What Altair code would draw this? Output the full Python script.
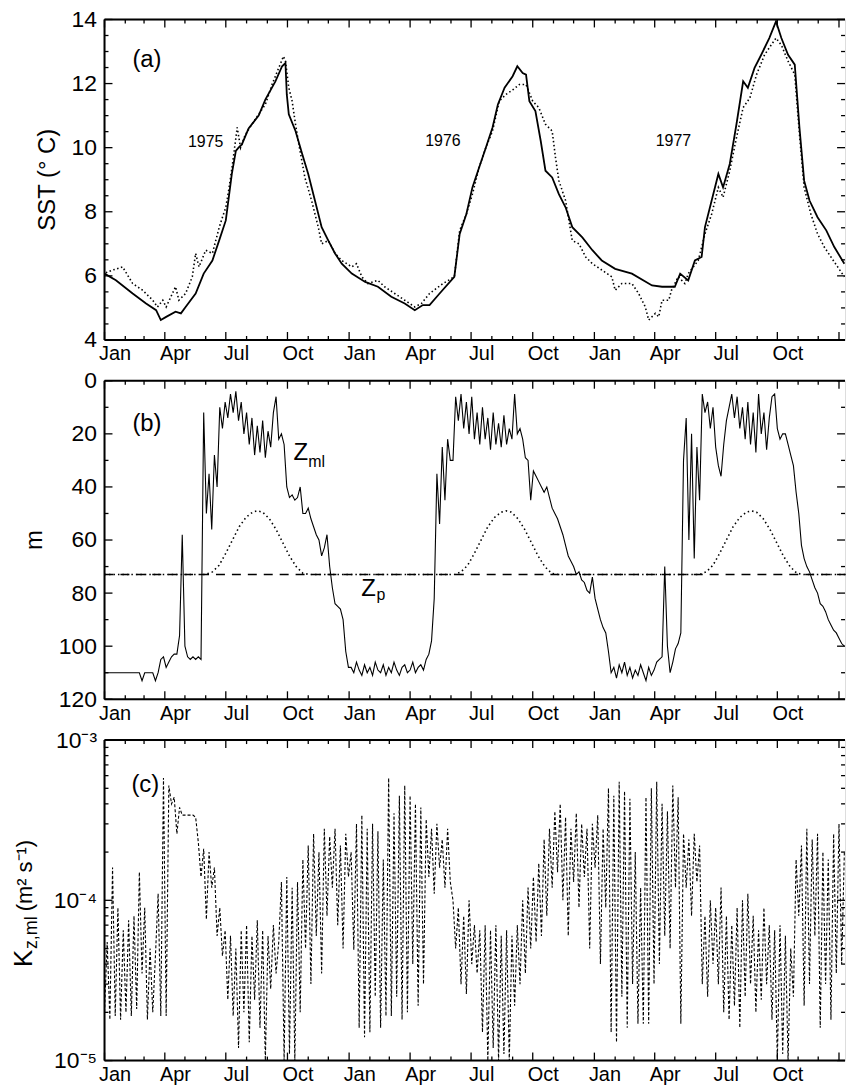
import altair as alt
import pandas as pd

FONT = "Liberation Sans"
W = 744
HA, HB, HC = 322, 320, 322

# ---------------- data (days since 1975-01-01) ----------------
# (a) SST, model (solid)
sst_model_day = [0, 17, 42, 62, 77, 84, 92, 106, 114, 121,
                 136, 148, 161, 171, 181, 190, 196, 200, 205, 215,
                 230, 240, 255, 265, 270, 272, 275, 285, 295, 304,
                 314, 324, 334, 344, 354, 369, 389, 408, 428, 448,
                 463, 475, 485, 500, 522, 530, 540, 549, 559, 569,
                 579, 587, 597, 609, 616, 624, 629, 634, 643, 651,
                 658, 668, 678, 688, 698, 713, 728, 742, 762, 787,
                 817, 832, 851, 859, 871, 881, 891, 896, 906, 916,
                 923, 933, 943, 953, 960, 970, 980, 992, 1002, 1010,
                 1020, 1030, 1037, 1044, 1052, 1064, 1077, 1089, 1104]
sst_model = [6.07, 5.86, 5.45, 5.14, 4.93, 4.62, 4.72, 4.88, 4.83, 5.03,
             5.45, 6.07, 6.48, 7.1, 7.73, 9.18, 9.9, 10.0, 10.1, 10.6,
             11.0, 11.5, 12.07, 12.54, 12.64, 11.66, 11.04, 10.52, 9.8, 9.18,
             8.35, 7.52, 7.1, 6.7, 6.38, 6.07, 5.81, 5.66, 5.35, 5.14,
             4.93, 5.09, 5.09, 5.45, 5.97, 7.31, 7.93, 8.76, 9.38, 10.0,
             10.63, 11.35, 11.87, 12.23, 12.54, 12.33, 12.28, 11.45, 11.14, 10.2,
             9.28, 9.07, 8.55, 8.14, 7.52, 7.2, 6.8, 6.48, 6.22, 6.07,
             5.7, 5.66, 5.66, 6.07, 5.86, 6.48, 6.59, 7.52, 8.35, 9.18,
             8.76, 9.49, 10.73, 12.07, 11.87, 12.49, 12.9, 13.42, 13.94, 13.42,
             12.9, 12.59, 10.63, 8.97, 8.35, 7.83, 7.42, 6.9, 6.38]
# (a) SST, observed (dotted)
sst_obs_day = [2, 12, 27, 42, 57, 72, 79, 87, 92, 106,
               111, 121, 131, 136, 141, 151, 161, 166, 171, 176,
               181, 186, 191, 196, 198, 203, 210, 220, 230, 240,
               250, 260, 267, 270, 275, 280, 285, 290, 299, 309,
               319, 324, 334, 344, 354, 369, 376, 384, 393, 408,
               418, 433, 448, 463, 473, 485, 505, 522, 530, 540,
               549, 559, 569, 579, 589, 599, 609, 619, 629, 639,
               648, 658, 668, 673, 678, 688, 698, 708, 718, 728,
               743, 757, 762, 772, 787, 797, 807, 812, 822, 827,
               832, 842, 846, 856, 866, 871, 886, 896, 906, 916,
               923, 933, 943, 953, 963, 973, 985, 995, 1002, 1010,
               1020, 1030, 1037, 1044, 1054, 1064, 1074, 1084, 1094, 1104]
sst_obs = [6.1, 6.18, 6.28, 5.76, 5.55, 5.24, 5.03, 5.24, 5.03, 5.66,
           5.24, 5.45, 5.97, 6.7, 6.28, 6.8, 6.7, 7.1, 7.5, 7.83,
           8.14, 8.76, 9.49, 10.3, 10.63, 10.0, 10.4, 10.73, 11.04, 11.35,
           11.97, 12.49, 12.85, 12.7, 11.87, 11.45, 10.73, 10.1, 9.07, 8.35,
           7.52, 7.0, 7.1, 6.7, 6.48, 6.28, 6.38, 5.97, 5.76, 5.86,
           5.66, 5.45, 5.24, 5.03, 5.14, 5.45, 5.76, 5.97, 7.42, 7.93,
           8.55, 9.38, 10.0, 10.52, 11.45, 11.66, 11.8, 11.97, 11.97, 11.45,
           11.25, 10.73, 10.52, 9.69, 8.97, 8.35, 7.1, 7.0, 6.59, 6.38,
           6.17, 5.97, 5.55, 5.76, 5.76, 5.45, 5.03, 4.62, 4.83, 4.72,
           5.24, 5.24, 5.55, 5.97, 5.76, 6.07, 6.48, 7.31, 7.93, 8.76,
           8.45, 9.28, 10.31, 11.25, 11.55, 12.28, 12.9, 13.21, 13.42, 13.2,
           12.7, 12.28, 10.42, 8.76, 7.93, 7.31, 6.9, 6.59, 6.28, 5.97]
year_labels = ["1975", "1976", "1977"]
year_label_day = [151, 505, 849]
year_label_sst = [10.18, 10.2, 10.2]

# (b) mixed-layer depth Z_ml (m), one sample every 4 days
zml_step = 4
zml = [110, 110, 110, 110, 110, 110, 110, 110, 110, 110, 110, 110, 110, 110,
       113, 110, 110, 110, 110, 113, 110, 105, 104, 108, 106, 104, 103, 103,
       96, 58, 100, 104, 105, 104, 105, 104, 105,
       12, 50, 35, 56, 28, 40, 10, 18, 8, 14, 5, 12, 4, 15, 8, 20, 12, 24, 14,
       28, 17, 27, 15, 29, 19, 25, 12, 6, 22, 20, 24,
       40, 44, 43, 45, 44, 40, 50, 50, 48, 52, 55, 58, 60, 66, 63, 58, 70, 78,
       84, 85, 86, 90, 102, 108,
       108, 110, 106, 109, 111, 107, 110, 108, 111, 106, 109, 110, 107, 111, 108,
       110, 106, 109, 111, 108, 107, 110, 109, 106, 110, 108, 107, 109, 105, 103,
       98, 82, 35, 54, 25, 45, 22, 30,
       30, 6, 15, 5, 18, 8, 20, 6, 22, 12, 24, 10, 22, 14, 26, 12, 24, 16, 25, 13,
       24, 18, 22, 5, 20, 18, 22,
       29, 30, 45, 34, 36, 38, 40, 42, 40, 44, 48, 50, 52, 55, 58, 62, 66, 68, 70,
       73, 72, 75, 76, 79, 80,
       74, 82, 86, 90, 93, 95, 102, 110,
       108, 112, 107, 110, 106, 111, 108, 112, 109, 111, 107, 110, 113, 108, 111,
       109, 106, 105,
       104, 70, 100, 110, 106, 101, 99, 95, 30, 14, 60, 20, 67, 25, 45,
       5, 12, 8, 18, 10, 25, 32, 36, 24, 15, 10, 5, 14, 6, 18, 10, 22, 8, 24, 12,
       27, 5, 20, 12, 26, 14, 6, 5,
       18, 22, 20, 20, 24, 28, 32, 42, 50, 62, 67, 70, 72, 75, 78, 80, 84, 85, 87,
       90, 92, 94, 95, 97, 99, 100]
zp_level = 73
# dotted seasonal curve: days after the start of each summer bump and depth
bump_offset = [0, 10, 20, 30, 40, 50, 60, 70, 77, 85, 95, 105, 115, 125, 135, 145, 155]
bump_depth = [73, 72, 69.5, 65, 60, 55, 51.5, 49.5, 49, 49.5, 52, 56, 61, 66, 70, 72.5, 73]
bump_start = [151, 522, 888]

# (c) K_z,ml in units of 1e-5 m2 s-1, one sample every 4 days
kz_step = 4
kz = [2.0, 5.5, 1.8, 16, 1.9, 9, 1.8, 6.5, 2.0, 7.5, 1.9,
      8, 2.1, 15, 3.5, 9, 1.8, 5, 2.0, 4.5, 11, 1.9,
      58, 1.9, 52, 40, 44, 26, 38, 34, 34, 34, 34, 34, 33,
      23, 14, 21, 7.6, 20, 12, 16, 6, 9, 4.5, 6.5, 2.4, 6, 1.9, 5, 1.2,
      6.5, 2.0, 7, 1.3, 6, 2.4, 7.5, 1.6, 6.5, 1.0, 6, 2.8, 7, 3.5, 5.5,
      13, 1.0, 14, 1.1, 12, 1.0, 13, 2.0, 18, 5, 22, 3.0, 26, 6, 20, 3.5, 28, 8, 25, 12,
      28, 7, 22, 5, 26,
      14, 20, 4.9, 30, 1.6, 34, 1.4, 28, 1.5, 30, 2.5, 27, 1.6, 18, 1.9,
      58, 1.9, 35, 2.5, 45, 1.8, 52, 2.0, 45, 4, 40, 2.2, 38, 3, 32, 14, 28, 11, 30, 16,
      24, 12, 28, 13,
      10, 5, 9, 3, 8, 2.6, 10, 4, 7, 3.5, 6.5, 1.5, 7, 1.0, 6.5, 1.2, 7, 1.0, 6, 1.1,
      6.5, 1.0, 6, 2.2, 7, 3,
      10, 3.5, 12, 5, 14, 5.5, 17, 6, 24, 8, 28, 12, 36, 15, 40, 10, 33, 6, 28, 13,
      35, 9, 30, 14, 28, 5, 30, 16, 34, 4, 28, 9,
      50, 1.5, 45, 1.3, 55, 2.5, 48, 1.6, 43, 3, 20, 1.7, 12, 1.7, 44, 1.7, 50, 3, 55, 4,
      40, 6, 36, 5, 52, 12, 44, 1.7, 26, 12, 24, 8, 26, 13, 22,
      3, 8, 2.5, 10, 4, 9, 3, 12, 2, 8, 1.8, 7, 2.2, 9, 1.6, 10, 2.5, 11, 3, 8,
      2.0, 6.5, 2.4, 9, 3, 7, 1.8, 6.5, 1.0, 7, 1.1, 6, 1.0, 5, 2.5,
      18, 8, 22, 2.2, 28, 3, 24, 6, 26, 1.6, 20, 3, 18, 1.8, 26, 3.5, 30, 4, 20]

month_major = [1, 4, 7, 10]


# ---------------- helpers ----------------
def d2s(day):
    return (pd.Timestamp("1975-01-01") + pd.Timedelta(days=float(day))).strftime("%Y-%m-%dT%H:%M:%S")


xscale = alt.Scale(domain=[alt.DateTime(year=1975, month=1, date=1),
                           alt.DateTime(year=1978, month=1, date=10)])
xaxis = alt.Axis(
    values=[alt.DateTime(year=y, month=m, date=16) for y in (1975, 1976, 1977) for m in month_major],
    format="%b", title=None, ticks=False, domain=False, grid=False,
    labelFontSize=20, labelPadding=4, labelFlush=False, labelOverlap=False,
    labelColor="black", labelFont=FONT)


def X():
    return alt.X("date:T", scale=xscale, axis=xaxis)


tick_rows = []
for y in range(1975, 1978):
    for m in range(1, 13):
        tick_rows.append({"date": f"{y}-{m:02d}-01T00:00:00", "major": m in month_major})
tick_rows.append({"date": "1978-01-01T00:00:00", "major": True})
ticks_df = pd.DataFrame(tick_rows)
one = pd.DataFrame({"a": [0]})


def panel(H, yscale, yaxis, ymajor, yminor, data_layers_fn, extras):
    def Y(field):
        return alt.Y(f"{field}:Q", scale=yscale, axis=yaxis)

    layers = data_layers_fn(Y)
    # x ticks (inward, top & bottom)
    for major, L in ((True, 8), (False, 4)):
        df = ticks_df[ticks_df["major"] == major]
        base = alt.Chart(df).mark_rule(color="black", strokeWidth=1.3)
        layers.append(base.encode(x=X(), y=alt.value(0), y2=alt.value(L)))
        layers.append(base.encode(x=X(), y=alt.value(H - L), y2=alt.value(H)))
    # y ticks (inward, left & right)
    for vals, L in ((ymajor, 8), (yminor, 4)):
        df = pd.DataFrame({"v": vals})
        base = alt.Chart(df).mark_rule(color="black", strokeWidth=1.3)
        layers.append(base.encode(y=Y("v"), x=alt.value(0), x2=alt.value(L)))
        layers.append(base.encode(y=Y("v"), x=alt.value(W - L), x2=alt.value(W)))
    # frame (top, bottom, left)
    fr = alt.Chart(one).mark_rule(color="black", strokeWidth=2)
    layers.append(fr.encode(x=alt.value(0), x2=alt.value(W), y=alt.value(0)))
    layers.append(fr.encode(x=alt.value(0), x2=alt.value(W), y=alt.value(H)))
    layers.append(fr.encode(x=alt.value(0), y=alt.value(0), y2=alt.value(H)))
    # pixel-placed texts
    for t in extras:
        kw = dict(text=t["text"], fontSize=t["size"], font=FONT, color="black",
                  align=t.get("align", "left"), baseline=t.get("baseline", "alphabetic"))
        if "angle" in t:
            kw["angle"] = t["angle"]
        layers.append(alt.Chart(one).mark_text(**kw).encode(x=alt.value(t["x"]), y=alt.value(t["y"])))
    return alt.layer(*layers).properties(width=W, height=H)


def yax(values, expr=None):
    kw = dict(values=values, title=None, ticks=False, domain=False, grid=False,
              labelFontSize=23, labelPadding=8, labelFlush=False, labelOverlap=False,
              labelColor="black", labelFont=FONT)
    if expr:
        kw["labelExpr"] = expr
    return alt.Axis(**kw)


# ---------- panel (a)
df_model = pd.DataFrame({"date": [d2s(d) for d in sst_model_day], "v": sst_model})
df_obs = pd.DataFrame({"date": [d2s(d) for d in sst_obs_day], "v": sst_obs})
df_years = pd.DataFrame({"date": [d2s(d) for d in year_label_day], "v": year_label_sst, "t": year_labels})


def layers_a(Y):
    return [
        alt.Chart(df_obs).mark_line(color="black", strokeWidth=1.6, strokeDash=[1.5, 2.5], clip=True)
        .encode(x=X(), y=Y("v")),
        alt.Chart(df_model).mark_line(color="black", strokeWidth=1.8, clip=True).encode(x=X(), y=Y("v")),
        alt.Chart(df_years).mark_text(fontSize=16, font=FONT, color="black", align="center", baseline="middle")
        .encode(x=X(), y=Y("v"), text="t:N"),
    ]


chart_a = panel(
    HA, alt.Scale(domain=[4, 14], nice=False), yax([4, 6, 8, 10, 12, 14]),
    [4, 6, 8, 10, 12, 14], [4.5, 5, 5.5, 6.5, 7, 7.5, 8.5, 9, 9.5, 10.5, 11, 11.5, 12.5, 13, 13.5],
    layers_a,
    [dict(text="(a)", size=24, x=28, y=48),
     dict(text="SST (° C)", size=24, x=-50, y=HA / 2, angle=270, align="center")])

# ---------- panel (b)
df_zml = pd.DataFrame({"date": [d2s(i * zml_step) for i in range(len(zml))], "v": zml})
zp_days = [0]
zp_vals = [zp_level]
for s in bump_start:
    for o, dpt in zip(bump_offset, bump_depth):
        zp_days.append(s + o)
        zp_vals.append(dpt)
zp_days.append(1106)
zp_vals.append(zp_level)
df_bump = pd.DataFrame({"date": [d2s(d) for d in zp_days], "v": zp_vals})
df_zp = pd.DataFrame({"date": [d2s(0), d2s(1106)], "v": [zp_level, zp_level]})
df_lab_b = pd.DataFrame({"date": [d2s(282), d2s(304), d2s(383), d2s(406)],
                         "v": [30, 32.5, 81, 82.5], "t": ["Z", "ml", "Z", "p"], "s": [24, 16, 24, 16]})


def layers_b(Y):
    return [
        alt.Chart(df_zp).mark_line(color="black", strokeWidth=1.5, strokeDash=[9, 7]).encode(x=X(), y=Y("v")),
        alt.Chart(df_bump).mark_line(color="black", strokeWidth=1.6, strokeDash=[1.5, 3]).encode(x=X(), y=Y("v")),
        alt.Chart(df_zml).mark_line(color="black", strokeWidth=1.1, clip=True).encode(x=X(), y=Y("v")),
        alt.Chart(df_lab_b).mark_text(font=FONT, color="black", align="left", baseline="alphabetic")
        .encode(x=X(), y=Y("v"), text="t:N", size=alt.Size("s:Q", scale=None, legend=None)),
    ]


chart_b = panel(
    HB, alt.Scale(domain=[0, 120], reverse=True, nice=False), yax([0, 20, 40, 60, 80, 100, 120]),
    [0, 20, 40, 60, 80, 100, 120], [10, 30, 50, 70, 90, 110],
    layers_b,
    [dict(text="(b)", size=24, x=28, y=50),
     dict(text="m", size=24, x=-63, y=HB / 2, angle=270, align="center")])

# ---------- panel (c)
df_kz = pd.DataFrame({"date": [d2s(i * kz_step) for i in range(len(kz))], "v": [k * 1e-5 for k in kz]})


def layers_c(Y):
    return [
        alt.Chart(df_kz).mark_line(color="black", strokeWidth=1.1, strokeDash=[3, 2], clip=True)
        .encode(x=X(), y=Y("v")),
    ]


minor_c = [k * 1e-5 for k in range(2, 10)] + [k * 1e-4 for k in range(2, 10)]
chart_c = panel(
    HC, alt.Scale(type="log", domain=[1e-5, 1e-3], nice=False),
    yax([1e-5, 1e-4, 1e-3],
        "datum.value > 0.0005 ? '10⁻³' : (datum.value > 0.00005 ? '10⁻⁴' : '10⁻⁵')"),
    [1e-5, 1e-4, 1e-3], minor_c,
    layers_c,
    [dict(text="(c)", size=24, x=27, y=52),
     dict(text="K", size=26, x=-73, y=228, angle=270),
     dict(text="z,ml", size=18, x=-68, y=210, angle=270),
     dict(text="(m² s⁻¹)", size=22, x=-73, y=172, angle=270)])

chart = alt.vconcat(chart_a, chart_b, chart_c, spacing=4).properties(
    padding={"left": 10, "top": 5, "right": 0, "bottom": 0}
).configure_view(stroke=None).configure(font=FONT, background="white")

chart.save("out.html", embed_options={"renderer": "svg", "actions": False})
